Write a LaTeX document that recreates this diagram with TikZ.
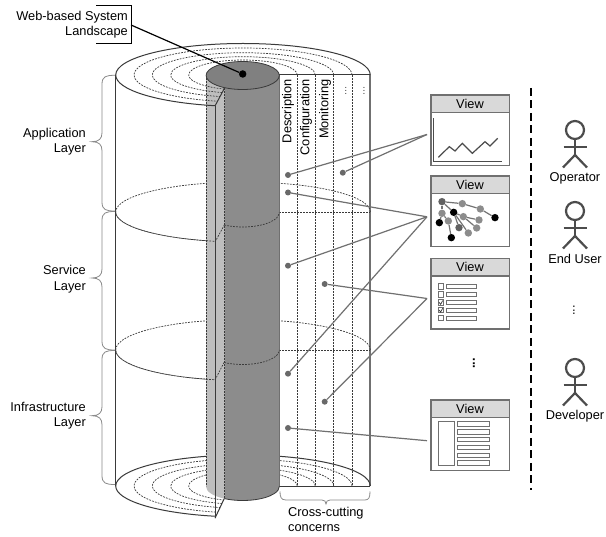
\documentclass[tikz,border=0pt]{standalone}
\usepackage{fontspec}
\setmainfont{Liberation Sans}
\usetikzlibrary{calc,shapes.geometric}
\definecolor{edgeD}{HTML}{3A3A3A}
\definecolor{edgeG}{HTML}{707070}
\definecolor{darkC}{HTML}{8C8C8C}
\definecolor{topC}{HTML}{808080}
\definecolor{lightC}{HTML}{BEBEBE}
\definecolor{headC}{HTML}{D9D9D9}
\definecolor{braceC}{HTML}{8A8A8A}
\definecolor{dotC}{HTML}{696969}
\newcommand\earc[6][]{\draw[#1] ([shift={(#5:#3pt and #4pt)}]#2) arc[start angle=#5,end angle=#6,x radius=#3pt,y radius=#4pt];}
\newcommand\lbr[3]{\draw[bracestyle] (115,#1) .. controls (106,#1) and (102,#1+1) .. (102,#1+9) -- (102,#2-9) .. controls (102,#2-3) and (99,#2) .. (92,#2) .. controls (99,#2) and (102,#2+3) .. (102,#2+9) -- (102,#3-9) .. controls (102,#3-1) and (106,#3) .. (115,#3);}
\newcommand\viewbox[2]{%
  \node[viewbody] (#1) at (470,#2+35.4) {};
  \node[viewhead] (#1h) at (470,#2+8.9) {View};}
\newcommand\actor[2]{%
  \begin{scope}[shift={(0,#2)},actorline]
    \node[draw,circle,inner sep=0pt,minimum size=18pt,line width=2.2pt] (#1head) at (575,130) {};
    \coordinate (#1hip) at (575,155);
    \coordinate (#1al) at (563.5,146.7);
    \coordinate (#1ar) at (586.5,146.7);
    \coordinate (#1ll) at (563,167.5);
    \coordinate (#1lr) at (587,167.5);
    \draw (#1head) -- (#1hip);
    \draw (#1al) -- (#1ar);
    \draw (#1ll) -- (#1hip) -- (#1lr);
  \end{scope}}
\tikzset{
  txt/.style={inner sep=0pt,font=\fontsize{12.8}{15.5}\selectfont},
  solidE/.style={edgeD,line width=1pt},
  dashE/.style={edgeD,line width=.7pt,dash pattern=on 1.8pt off 1.2pt},
  bracestyle/.style={braceC,line width=.8pt},
  viewbody/.style={draw=edgeG,fill=white,line width=1.3pt,minimum width=78.3pt,minimum height=70.7pt,inner sep=0pt},
  viewhead/.style={draw=edgeG,fill=headC,line width=1.3pt,minimum width=78.3pt,minimum height=17.7pt,inner sep=0pt,font=\fontsize{12.8}{15.5}\selectfont},
  dotn/.style={circle,fill=dotC,inner sep=0pt,minimum size=6pt},
  link/.style={edgeG,line width=1.2pt},
  actorline/.style={draw=black!70,line width=2.2pt},
  tnG/.style={circle,fill=black!45,inner sep=0pt,minimum size=7.4pt},
  tnD/.style={circle,fill=black!62,inner sep=0pt,minimum size=7.4pt},
  tnK/.style={circle,fill=black,inner sep=0pt,minimum size=7.4pt},
  tedge/.style={black!55,line width=1.2pt},
  thin1/.style={draw=edgeG,line width=1pt,fill=white},
}
\begin{document}
\begin{tikzpicture}[x=1pt,y=-1pt]
\useasboundingbox (0,0) rectangle (606,537);
\fill[white] (0,0) rectangle (606,537);

% side lines
\draw[solidE] (115.7,75) -- (115.7,486);
\draw[edgeG,line width=1.2pt] (370,75) -- (370,486);

% bottom disc
\earc[solidE]{243,486}{127.3}{31}{0}{257.3}
\draw[solidE] (279,486.3) -- (370,486.3);
\draw[solidE] (215,518.2) -- (224.3,498.5);
\begin{scope}
  \clip (100,440) -- (380,440) -- (380,486) -- (224.3,486) -- (224.3,498.5) -- (215,518.2) -- (215,530) -- (100,530) -- cycle;
  \foreach \r/\s in {109/27,90.7/22.3,72.3/18.3,54.3/15}{
    \earc[dashE]{243,486}{\r}{\s}{0}{290}
  }
\end{scope}

% middle rings, back
\earc[dashE]{243,212}{127.3}{30}{0}{257.3}
\earc[dashE]{243,350}{127.3}{30.5}{0}{257.3}
\draw[dashE] (279,212.3) -- (370,212.3);
\draw[dashE] (279,350) -- (370,350);

% columns on the cut face
\foreach \x in {297.3,315.3,333.7,352}{\draw[dashE] (\x,75) -- (\x,486);}

% central column
\fill[lightC] (206,75.5) -- (206,486.5) arc[start angle=180,end angle=239.8,x radius=36.6pt,y radius=14pt] -- (224.3,75.5) -- cycle;
\fill[darkC] (224.3,75.5) -- (224.3,498.6) arc[start angle=239.8,end angle=360,x radius=36.6pt,y radius=14pt] -- (279.3,75.5) -- cycle;
\draw[edgeG,line width=1pt] (279.3,75.5) -- (279.3,486.5);
\earc[edgeD,line width=.8pt]{242.7,486.5}{36.6}{14}{239.8}{360}

% top disc
\earc[solidE]{243,75}{127.3}{31.5}{0}{257.3}
\draw[solidE] (279,75) -- (370,75);
\begin{scope}
  \clip (100,30) -- (380,30) -- (380,75) -- (224.3,75) -- (224.3,88.5) -- (215,106) -- (215,130) -- (100,130) -- cycle;
  \foreach \r/\s in {109/27,90.7/22.3,72.3/18.3,54.3/15}{
    \earc[dashE]{243,75}{\r}{\s}{0}{290}
  }
\end{scope}

% front parts of the middle rings, on the column
\earc[dashE]{243,212}{127.3}{30}{180}{257.3}
\earc[dashE]{243,350}{127.3}{30.5}{180}{257.3}
\earc[dashE]{242.7,212.5}{36.6}{14.5}{239.8}{360}
\earc[dashE]{242.7,350}{36.6}{14.5}{239.8}{360}
\draw[dashE] (215,242) -- (224.3,225);
\draw[dashE] (215,380) -- (224.3,362);

% column edges
\draw[solidE] (215,106) -- (215,518.2);
\draw[solidE] (215,106) -- (224.3,88.5);
\draw[dashE] (206,75.5) -- (206,486.5);
\draw[dashE] (224.3,88.5) -- (224.3,498.5);

% column top
\node[draw=edgeD,fill=topC,ellipse,inner sep=0pt,minimum width=73.2pt,minimum height=28pt,line width=.8pt] (coltop) at (242.7,75.5) {};
\node[circle,fill=black,inner sep=0pt,minimum size=7.5pt] (landdot) at (242.7,74) {};

% title box
\coordinate (tba) at (96,5.5);
\coordinate (tbb) at (131,5.5);
\coordinate (tbc) at (131,43.3);
\coordinate (tbd) at (96,43.3);
\coordinate (tbe) at (131,25);
\draw[black,line width=1pt] (tba) -- (tbb) -- (tbc) -- (tbd);
\draw[black,line width=1.2pt] (tbe) -- (landdot);
\node[txt,align=right,anchor=east] (title) at (128,24.6) {Web-based System\\Landscape};

% braces and layer names
\lbr{75.3}{141.7}{211}
\lbr{211.5}{278}{350}
\lbr{350.5}{415.7}{484.5}
\node[txt,align=right,anchor=east] (lapp) at (86,141.6) {Application\\Layer};
\node[txt,align=right,anchor=east] (lsrv) at (86,279) {Service\\Layer};
\node[txt,align=right,anchor=east] (linf) at (86,415.5) {Infrastructure\\Layer};

% column labels
\node[txt,rotate=90,anchor=east] (cdesc) at (288,79) {Description};
\node[txt,rotate=90,anchor=east] (cconf) at (306,79) {Configuration};
\node[txt,rotate=90,anchor=east] (cmon) at (325,79) {Monitoring};
\node[txt,rotate=90,text=black!60,font=\fontsize{11}{12}\selectfont] (cd1) at (345.7,91) {...};
\node[txt,rotate=90,text=black!60,font=\fontsize{11}{12}\selectfont] (cd2) at (364,91) {...};

% cross-cutting brace
\draw[bracestyle] (280,491.5) .. controls (280,497) and (281,500) .. (286,500) -- (322,500) .. controls (324.5,500) and (326,501.5) .. (326,504) .. controls (326,501.5) and (327.5,500) .. (330,500) -- (365,500) .. controls (369,500) and (370,497) .. (370,491.5);
\node[txt,align=left,anchor=north west] (cross) at (288,507) {Cross-cutting\\concerns};

% views
\viewbox{va}{95}
\viewbox{vb}{176}
\viewbox{vc}{258.3}
\viewbox{vd}{400}

% chart
\begin{scope}[shift={(420,80)},x=.3333pt,y=-.3333pt]
  \coordinate (axa) at (40,115); \coordinate (axb) at (40,245); \coordinate (axc) at (247,245);
  \draw[black!70,line width=1pt] (axa) -- (axb) -- (axc);
  \draw[black!70,line width=1.2pt] (55,232) -- (88,200) -- (105,213) -- (127,190) -- (157,220) -- (195,185) -- (210,198) -- (233,175);
\end{scope}

% tree
\begin{scope}[shift={(420,80)},x=.3333pt,y=-.3333pt]
  \node[tnD] (t1) at (66,365) {};
  \node[tnG] (t2) at (127,371) {};
  \node[tnG] (t3) at (181,387) {};
  \node[tnK] (t4) at (225,413) {};
  \node[tnG] (t5) at (66,400) {};
  \node[tnK] (t6) at (101,397) {};
  \node[tnK] (t7) at (58,428) {};
  \node[tnG] (t8) at (85,423) {};
  \node[tnG] (t9) at (130,410) {};
  \node[tnG] (t10) at (177,420) {};
  \node[tnD] (t11) at (117,443) {};
  \node[tnG] (t12) at (170,444) {};
  \node[tnG] (t13) at (145,459) {};
  \node[tnK] (t14) at (94,473) {};
  \draw[tedge] (t1) -- (t2); \draw[tedge] (t2) -- (t3); \draw[tedge] (t3) -- (t4);
  \draw[tedge] (t1) -- (t5); \draw[tedge] (t5) -- (t7); \draw[tedge] (t1) -- (t6);
  \draw[tedge] (t5) -- (t8); \draw[tedge] (t8) -- (t14); \draw[tedge] (t6) -- (t9);
  \draw[tedge] (t9) -- (t10); \draw[tedge] (t6) -- (t11); \draw[tedge] (t9) -- (t12);
  \draw[tedge] (t6) -- (t13);
\end{scope}

% checklist
\begin{scope}[shift={(420,250)},x=.3333pt,y=-.3333pt]
  \foreach \yy in {110,134,158,181,205}{
    \draw[thin1] (54,\yy-8) rectangle (71,\yy+8);
    \draw[thin1] (81,\yy-6) rectangle (171,\yy+6);
  }
  \draw[black!80,line width=.7pt] (57,157) -- (62,163) -- (68,152);
  \draw[black!80,line width=.7pt] (57,180) -- (62,186) -- (68,175);
\end{scope}

% list panel
\begin{scope}[shift={(420,250)},x=.3333pt,y=-.3333pt]
  \draw[thin1] (54,516) rectangle (104,647);
  \foreach \yy in {522,546,569,593,617,640}{
    \draw[thin1] (112,\yy-7) rectangle (209,\yy+7);
  }
\end{scope}

% dots and links
\node[dotn] (d1) at (288,175) {};
\node[dotn] (d2) at (342.8,172.7) {};
\node[dotn] (d3) at (288,192.5) {};
\node[dotn] (d4) at (288,265.7) {};
\node[dotn] (d5) at (324.7,284) {};
\node[dotn] (d6) at (288,373.7) {};
\node[dotn] (d7) at (324.7,401.7) {};
\node[dotn] (d8) at (288,428) {};
\coordinate (ca) at (427,134.5);
\coordinate (cb) at (427,216.8);
\coordinate (cc) at (427,298.5);
\coordinate (cd) at (427,440.7);
\draw[link] (d1) -- (ca);
\draw[link] (d2) -- (ca);
\draw[link] (d3) -- (cb);
\draw[link] (d4) -- (cb);
\draw[link] (d6) -- (cb);
\draw[link] (d5) -- (cc);
\draw[link] (d7) -- (cc);
\draw[link] (d8) -- (cd);

% ellipsis between views
\node[txt,rotate=90,font=\bfseries\fontsize{12.8}{15}\selectfont] (vdots) at (474,363.5) {...};

% divider
\coordinate (diva) at (531,88);
\coordinate (divb) at (531,490);
\draw[black,line width=1.1pt,dash pattern=on 8pt off 4.5pt] (diva) -- (divb);

% actors
\actor{aa}{0}
\actor{ab}{81}
\actor{ac}{238}
\node[txt] (la) at (575,178.7) {Operator};
\node[txt] (lb) at (575,259.3) {End User};
\node[txt] (lc) at (575,415.7) {Developer};
\node[txt,rotate=90] (adots) at (574,310.5) {...};
\end{tikzpicture}
\end{document}
